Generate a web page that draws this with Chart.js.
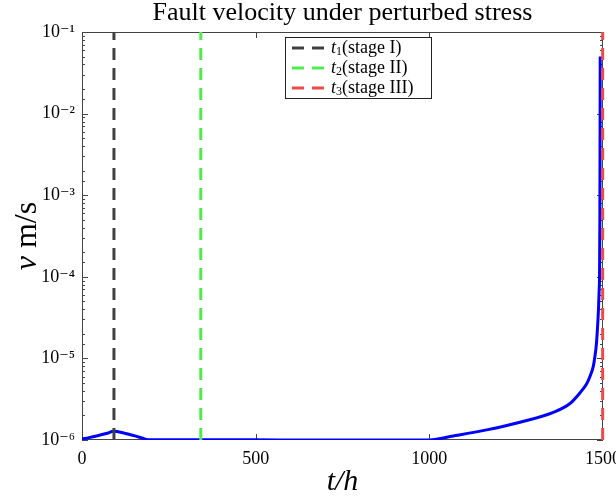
<!DOCTYPE html>
<html>
<head>
<meta charset="utf-8">
<script src="https://cdn.jsdelivr.net/npm/chart.js@4.4.1/dist/chart.umd.min.js"></script>
<style>
html, body { margin: 0; padding: 0; background: #fff; }
</style>
</head>
<body>
<canvas id="canvas" width="616" height="497"></canvas>
<script>
// time in hours and slip velocity (m/s)
var timeHours = [0, 20, 45, 70, 92, 120, 150, 175, 190, 300, 500, 700, 900, 1000,
    1069, 1165, 1261, 1357, 1405, 1434, 1453, 1463, 1472, 1477, 1481, 1484, 1487,
    1489, 1490, 1491, 1491.5, 1492];
var velocity = [1.03e-6, 1.07e-6, 1.13e-6, 1.2e-6, 1.28e-6, 1.22e-6, 1.13e-6, 1.05e-6,
    1.01e-6, 1.01e-6, 1.005e-6, 1.0e-6, 1.0e-6, 1.0e-6,
    1.12e-6, 1.33e-6, 1.65e-6, 2.18e-6, 2.8e-6, 3.8e-6, 4.9e-6, 6.1e-6, 8e-6,
    1.08e-5, 1.5e-5, 2.3e-5, 4e-5, 7e-5, 1.0e-4, 5e-4, 4e-3, 5e-2];

// stage markers
var stageTimes = [92, 342, 1499];
var stageIndex = ["1", "2", "3"];
var stageNames = ["(stage I)", "(stage II)", "(stage III)"];
var stageColors = ["#404040", "#4ded4d", "#ee4a4a"];

var xTicks = [0, 500, 1000, 1500];
var yMin = 1e-6, yMax = 1e-1;

var serif = "'Liberation Serif', 'DejaVu Serif', serif";
var supMap = { "-": "\u207B", "0": "\u2070", "1": "\u00B9", "2": "\u00B2", "3": "\u00B3",
    "4": "\u2074", "5": "\u2075", "6": "\u2076", "7": "\u2077", "8": "\u2078", "9": "\u2079" };

function powLabel(v) {
    var e = Math.log10(v);
    var r = Math.round(e);
    if (Math.abs(e - r) > 1e-6) return "";
    return "10" + String(r).split("").map(function (c) { return supMap[c]; }).join("");
}

var datasets = [];
stageTimes.forEach(function (t, i) {
    datasets.push({
        label: "t" + stageIndex[i] + stageNames[i],
        data: [{ x: t, y: yMin }, { x: t, y: yMax }],
        borderColor: stageColors[i],
        borderWidth: 3,
        borderDash: [12, 8],
        pointRadius: 0,
        clip: false,
        fill: false
    });
});
datasets.push({
    label: "velocity",
    data: timeHours.map(function (t, i) { return { x: t, y: velocity[i] }; }),
    borderColor: "#0000ff",
    borderWidth: 3,
    pointRadius: 0,
    cubicInterpolationMode: "monotone",
    fill: false
});

// frame with inward ticks on all four sides, y title and legend
var frameTicks = {
    id: "frameTicks",
    beforeDatasetsDraw: function (chart) {
        var ctx = chart.ctx, a = chart.chartArea;
        var xs = chart.scales.x, ys = chart.scales.y;
        ctx.save();
        ctx.strokeStyle = "#444";
        ctx.lineWidth = 1;
        ctx.strokeRect(a.left + 0.5, a.top + 0.5, a.right - a.left - 1, a.bottom - a.top - 1);
        ctx.beginPath();
        ys.ticks.forEach(function (tk) {
            var py = Math.round(ys.getPixelForValue(tk.value)) + 0.5;
            var len = powLabel(tk.value) ? 6 : 3;
            ctx.moveTo(a.left, py); ctx.lineTo(a.left + len, py);
            ctx.moveTo(a.right, py); ctx.lineTo(a.right - len, py);
        });
        xTicks.forEach(function (v) {
            var px = Math.round(xs.getPixelForValue(v)) + 0.5;
            ctx.moveTo(px, a.bottom); ctx.lineTo(px, a.bottom - 6);
            ctx.moveTo(px, a.top); ctx.lineTo(px, a.top + 6);
        });
        ctx.stroke();
        ctx.restore();
    },
    afterDraw: function (chart) {
        var ctx = chart.ctx, a = chart.chartArea;
        ctx.save();
        // y axis title: italic v, upright m/s
        ctx.translate(28, (a.top + a.bottom) / 2);
        ctx.rotate(-Math.PI / 2);
        ctx.fillStyle = "#000";
        ctx.textBaseline = "middle";
        ctx.font = "italic 32px " + serif;
        var w1 = ctx.measureText("v").width;
        ctx.font = "32px " + serif;
        var w2 = ctx.measureText(" m/s").width;
        var sx = -(w1 + w2) / 2;
        ctx.font = "italic 32px " + serif;
        ctx.textAlign = "left";
        ctx.fillText("v", sx, 0);
        ctx.font = "32px " + serif;
        ctx.fillText(" m/s", sx + w1, 0);
        ctx.restore();

        // legend box inside the plot
        var bx = a.left + 203, by = a.top + 5, bw = 146, bh = 61;
        ctx.save();
        ctx.fillStyle = "#fff";
        ctx.fillRect(bx, by, bw, bh);
        ctx.strokeStyle = "#222";
        ctx.lineWidth = 1;
        ctx.strokeRect(bx + 0.5, by + 0.5, bw, bh);
        stageTimes.forEach(function (t, i) {
            var ry = by + 11 + i * 20;
            ctx.strokeStyle = stageColors[i];
            ctx.lineWidth = 3;
            ctx.setLineDash([12, 8]);
            ctx.beginPath();
            ctx.moveTo(bx + 7, ry);
            ctx.lineTo(bx + 39, ry);
            ctx.stroke();
            ctx.setLineDash([]);
            ctx.fillStyle = "#000";
            ctx.textBaseline = "middle";
            ctx.textAlign = "left";
            var tx = bx + 46;
            ctx.font = "italic 18px " + serif;
            ctx.fillText("t", tx, ry);
            tx += ctx.measureText("t").width;
            ctx.font = "12px " + serif;
            ctx.fillText(stageIndex[i], tx, ry + 4);
            tx += ctx.measureText(stageIndex[i]).width;
            ctx.font = "18px " + serif;
            ctx.fillText(stageNames[i], tx, ry);
        });
        ctx.restore();
    }
};

var config = {
    type: "line",
    data: { datasets: datasets },
    options: {
        responsive: false,
        animation: false,
        layout: { padding: { left: 0, right: 13, top: 0, bottom: 0 } },
        plugins: {
            legend: { display: false },
            tooltip: { enabled: false },
            title: {
                display: true,
                fullSize: false,
                text: "Fault velocity under perturbed stress",
                color: "#000",
                font: { family: serif, size: 26, weight: "normal", lineHeight: 1 },
                padding: { top: 0, bottom: 6 }
            }
        },
        scales: {
            x: {
                type: "linear",
                min: 0,
                max: 1500,
                grid: { display: false, drawTicks: false },
                border: { display: false },
                afterBuildTicks: function (scale) {
                    scale.ticks = xTicks.map(function (v) { return { value: v }; });
                },
                afterFit: function (scale) {
                    scale.height = 57;
                    scale.paddingLeft = 0;
                    scale.paddingRight = 0;
                },
                ticks: {
                    color: "#000",
                    padding: 8,
                    maxRotation: 0,
                    font: { family: serif, size: 18 },
                    callback: function (v) { return String(v); }
                },
                title: {
                    display: true,
                    text: "t/h",
                    color: "#000",
                    font: { family: serif, size: 30, style: "italic", lineHeight: 1 },
                    padding: { top: 0, bottom: 0 }
                }
            },
            y: {
                type: "logarithmic",
                min: yMin,
                max: yMax,
                grid: { display: false, drawTicks: false },
                border: { display: false },
                afterFit: function (scale) {
                    scale.width = 82;
                    scale.paddingTop = 0;
                    scale.paddingBottom = 0;
                },
                ticks: {
                    color: "#000",
                    padding: 7,
                    autoSkip: false,
                    font: { family: serif, size: 18 },
                    callback: function (v) { return powLabel(v); }
                }
            }
        }
    },
    plugins: [frameTicks]
};

window.onload = function () {
    var ctx = document.getElementById("canvas").getContext("2d");
    window.myLine = new Chart(ctx, config);
};
</script>
</body>
</html>
